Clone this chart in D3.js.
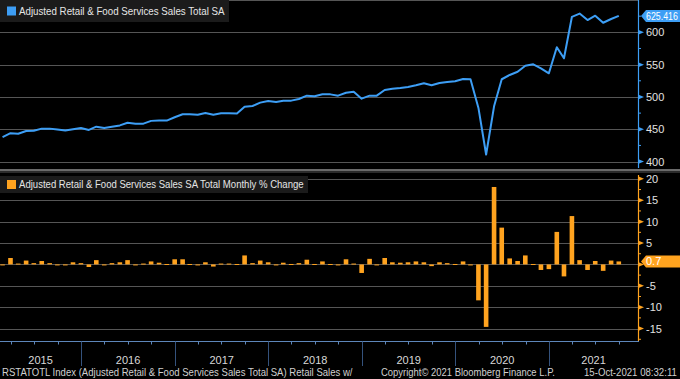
<!DOCTYPE html>
<html>
<head>
<meta charset="utf-8">
<script src="https://cdn.jsdelivr.net/npm/d3@7"></script>
<style>
body { margin: 0; background: #000; }
svg { display: block; font-family: 'Liberation Sans Narrow', 'Liberation Sans', Arial, sans-serif; }
.grid { stroke: #555; stroke-width: 1; shape-rendering: crispEdges; }
.tickLabel { fill: #e2e2e2; font-size: 11px; }
.tagLabel { font-size: 11px; }
.legendText { fill: #e6e6e6; font-size: 11px; }
.yearLabel { fill: #d8d8d8; font-size: 11px; }
.footer { fill: #d0d0d0; font-size: 10.5px; }
</style>
</head>
<body>
<svg width="680" height="379"></svg>
<script>
// **** data (Feb 2015 - Sep 2021, monthly, plotted at month end) ****
var firstMonth = Date.UTC(2015, 1, 1);
var lastMonth = Date.UTC(2021, 8, 1);

// Adjusted Retail & Food Services Sales Total SA (USD bn)
var sales = [
    437.7, 443.9, 443.0, 447.4, 447.6, 451.0, 451.0, 449.5, 448.2, 450.0, 452.0,
    449.0, 454.0, 452.0, 454.0, 456.0, 460.0, 458.7, 458.7, 463.0, 463.4, 463.4, 468.6,
    473.2, 473.2, 472.6, 475.3, 472.6, 474.8, 474.8, 474.5, 485.0, 486.0, 491.2, 493.8,
    492.3, 494.3, 494.3, 496.9, 502.0, 501.0, 504.2, 504.0, 502.0, 506.6, 508.2, 497.4,
    502.0, 502.0, 510.8, 512.8, 513.9, 515.5, 518.0, 521.2, 518.0, 521.6, 523.2, 524.2,
    527.8, 527.4, 483.0, 411.0, 485.5, 527.4, 534.0, 539.0, 548.4, 550.5, 544.3, 536.6,
    576.8, 559.8, 624.0, 629.0, 619.0, 625.7, 614.8, 620.6, 625.416
];

// Monthly % change
var pctChange = [
    -0.2, 1.5, 0.2, 0.9, 0.3, 0.8, 0.3, -0.2, -0.2, 0.5, 0.3,
    -0.6, 1.0, -0.2, 0.3, 0.5, 1.0, -0.1, 0.2, 0.7, 0.4, 0.1, 1.2,
    1.2, 0.1, -0.1, 0.5, -0.5, 0.2, 0.2, 0.1, 2.1, 0.3, 0.9, 0.5,
    -0.1, 0.4, 0.1, 0.3, 1.1, 0.1, 0.7, 0.1, -0.2, 1.2, 0.2, -2.0,
    1.3, -0.1, 1.5, 0.5, 0.4, 0.5, 0.7, 0.5, -0.4, 0.5, 0.3, 0.1,
    0.7, -0.1, -8.4, -14.6, 18.1, 8.6, 1.4, 0.8, 2.1, 0.1, -1.3, -1.1,
    7.6, -2.8, 11.3, 1.0, -1.3, 0.8, -1.5, 0.9, 0.7
];

var years = ['2015', '2016', '2017', '2018', '2019', '2020', '2021'];
var salesTicks = [400, 450, 500, 550, 600];
var salesMinor = [425, 475, 525, 575, 625];
var salesGrid = [400, 450, 500, 550, 600, 650];
var chgTicks = [-15, -10, -5, 0, 5, 10, 15, 20];
var chgMinor = [-17.5, -12.5, -7.5, -2.5, 2.5, 7.5, 12.5, 17.5];

var topTitle = 'Adjusted Retail & Food Services Sales Total SA';
var bottomTitle = 'Adjusted Retail & Food Services Sales SA Total Monthly % Change';

var blue = '#3d9ef5';
var orange = '#ffa31f';

var svg = d3.select('svg');
var plotRight = 638;

var months = d3.utcMonth.range(firstMonth, d3.utcMonth.offset(new Date(lastMonth), 1));
var data = months.map(function(m, i) {
    return {
        date: d3.utcDay.offset(d3.utcMonth.offset(m, 1), -1),
        sales: sales[i],
        chg: pctChange[i]
    };
});

// squeeze a text horizontally so it spans `width` px
function fitText(t, x, y, width) {
    var w = t.node().getComputedTextLength();
    var k = Math.min(1, width / w);
    t.attr('x', 0).attr('y', 0)
        .attr('transform', `translate(${x},${y}) scale(${k},1)`);
    return t;
}

// **** scales ****
var xScale = d3.scaleUtc()
    .domain([new Date(Date.UTC(2015, 1, 18)), new Date(Date.UTC(2021, 11, 14))])
    .range([0, plotRight]);

var salesScale = d3.scaleLinear().domain([387, 650]).range([170, 0]);
var chgScale = d3.scaleLinear().domain([-17.9, 20.9]).range([341, 175]);

svg.append('defs').append('clipPath').attr('id', 'plotClip')
    .append('rect').attr('x', 0).attr('y', 0).attr('width', plotRight).attr('height', 379);

// **** grid lines ****
svg.append('g').selectAll('line')
    .data(salesGrid).enter().append('line')
    .attr('class', 'grid')
    .attr('x1', 0).attr('x2', plotRight)
    .attr('y1', d => Math.round(salesScale(d)) + 0.5)
    .attr('y2', d => Math.round(salesScale(d)) + 0.5);

svg.append('g').selectAll('line')
    .data(chgTicks).enter().append('line')
    .attr('class', 'grid')
    .attr('x1', 0).attr('x2', plotRight)
    .attr('y1', d => Math.round(chgScale(d)) + 0.5)
    .attr('y2', d => Math.round(chgScale(d)) + 0.5);

// panel separator
svg.append('rect').attr('x', 0).attr('y', 169).attr('width', 680).attr('height', 2).attr('fill', '#6a6a6a');
svg.append('rect').attr('x', 0).attr('y', 171).attr('width', 680).attr('height', 2).attr('fill', '#2b2b2b');

// **** line ****
var line = d3.line()
    .x(d => xScale(d.date))
    .y(d => salesScale(d.sales));

svg.append('path')
    .datum(data)
    .attr('clip-path', 'url(#plotClip)')
    .attr('fill', 'none')
    .attr('stroke', blue)
    .attr('stroke-width', 2)
    .attr('stroke-linejoin', 'round')
    .attr('d', line);

// **** bars ****
var barWidth = 4.6;
svg.append('g').attr('clip-path', 'url(#plotClip)')
    .selectAll('rect')
    .data(data).enter().append('rect')
    .attr('x', d => xScale(d.date) - barWidth / 2)
    .attr('width', barWidth)
    .attr('y', d => Math.min(chgScale(d.chg), chgScale(0)))
    .attr('height', d => Math.max(Math.abs(chgScale(d.chg) - chgScale(0)), 1))
    .attr('fill', orange);

// **** right axes ****
// hideLabel: tick whose label sits under the last-value tag
function drawRightAxis(scale, ticks, minor, color, y0, y1, hideLabel) {
    var g = svg.append('g');
    g.append('line')
        .attr('x1', plotRight + 0.5).attr('x2', plotRight + 0.5)
        .attr('y1', y0).attr('y2', y1)
        .attr('stroke', color).attr('stroke-width', 1.2);
    g.selectAll('.flag').data(ticks).enter().append('path')
        .attr('class', 'flag')
        .attr('d', d => {
            var y = scale(d);
            return `M${plotRight},${y - 2.5}L${plotRight + 6},${y}L${plotRight},${y + 2.5}Z`;
        })
        .attr('fill', color);
    g.selectAll('.minor').data(minor).enter().append('line')
        .attr('x1', plotRight).attr('x2', plotRight + 3)
        .attr('y1', d => scale(d)).attr('y2', d => scale(d))
        .attr('stroke', color);
    g.selectAll('.tickLabel').data(ticks.filter(d => d !== hideLabel)).enter().append('text')
        .attr('class', 'tickLabel')
        .attr('x', plotRight + 8)
        .attr('y', d => scale(d))
        .attr('dy', '0.36em')
        .text(d => d);
}

drawRightAxis(salesScale, salesTicks, salesMinor, blue, 0, 168, null);
drawRightAxis(chgScale, chgTicks, chgMinor, orange, 175, 341, 0);

// last value tags
function drawTag(y, label, color, textColor, textWidth) {
    svg.append('path')
        .attr('d', `M${plotRight + 3},${y}L${plotRight + 8},${y - 6}L680,${y - 6}L680,${y + 6}L${plotRight + 8},${y + 6}Z`)
        .attr('fill', color);
    var t = svg.append('text')
        .attr('class', 'tagLabel')
        .attr('dy', '0.36em')
        .style('fill', textColor)
        .text(label);
    fitText(t, plotRight + 8, y, textWidth);
}

var last = data[data.length - 1];
drawTag(salesScale(last.sales), d3.format('.3f')(last.sales), blue, '#ffffff', 32);
drawTag(chgScale(last.chg), d3.format('.1f')(last.chg), orange, '#ffffff', 32);

// **** x axis ****
var axisY = 341.5;
svg.append('line')
    .attr('x1', 0).attr('x2', plotRight + 1)
    .attr('y1', axisY).attr('y2', axisY)
    .attr('stroke', '#5d86ba').attr('stroke-width', 1.2);

var quarters = d3.utcMonth.every(3).range(xScale.domain()[0], xScale.domain()[1]);
svg.append('g').selectAll('line')
    .data(quarters.filter(d => d.getUTCMonth() !== 0)).enter().append('line')
    .attr('x1', d => Math.round(xScale(d)) + 0.5).attr('x2', d => Math.round(xScale(d)) + 0.5)
    .attr('y1', axisY).attr('y2', axisY + 3)
    .attr('stroke', '#5d86ba');

var yearStarts = years.slice(1).map(y => new Date(Date.UTC(+y, 0, 1)));
svg.append('g').selectAll('line')
    .data(yearStarts).enter().append('line')
    .attr('x1', d => Math.round(xScale(d)) + 0.5).attr('x2', d => Math.round(xScale(d)) + 0.5)
    .attr('y1', axisY).attr('y2', 366)
    .attr('stroke', '#34527c');

svg.append('g').selectAll('text')
    .data(years).enter().append('text')
    .attr('class', 'yearLabel')
    .attr('text-anchor', 'middle')
    .attr('x', d => {
        var a = Math.max(xScale(new Date(Date.UTC(+d, 0, 1))), 0);
        var b = Math.min(xScale(new Date(Date.UTC(+d + 1, 0, 1))), plotRight);
        return (a + b) / 2;
    })
    .attr('y', 364)
    .text(d => d);

// **** legends ****
function drawLegend(y, w, h, title, color, textWidth) {
    svg.append('rect').attr('x', 0).attr('y', y).attr('width', w).attr('height', h).attr('fill', '#1b1b1b');
    svg.append('rect').attr('x', 7).attr('y', y + h / 2 - 4.5).attr('width', 9).attr('height', 9).attr('fill', color);
    var t = svg.append('text')
        .attr('class', 'legendText')
        .attr('dy', '0.36em')
        .text(title);
    fitText(t, 19, y + h / 2, textWidth);
}

drawLegend(0, 229, 22, topTitle, blue, 206);
drawLegend(176, 308, 17, bottomTitle, orange, 285);

// **** footer ****
fitText(svg.append('text').attr('class', 'footer')
    .text('RSTATOTL Index (Adjusted Retail & Food Services Sales Total SA) Retail Sales w/'), 2, 376, 351);
fitText(svg.append('text').attr('class', 'footer')
    .text('Copyright\u00a9 2021 Bloomberg Finance L.P.'), 381, 376, 174);
fitText(svg.append('text').attr('class', 'footer')
    .text('15-Oct-2021 08:32:11'), 584, 376, 93);
</script>
</body>
</html>
